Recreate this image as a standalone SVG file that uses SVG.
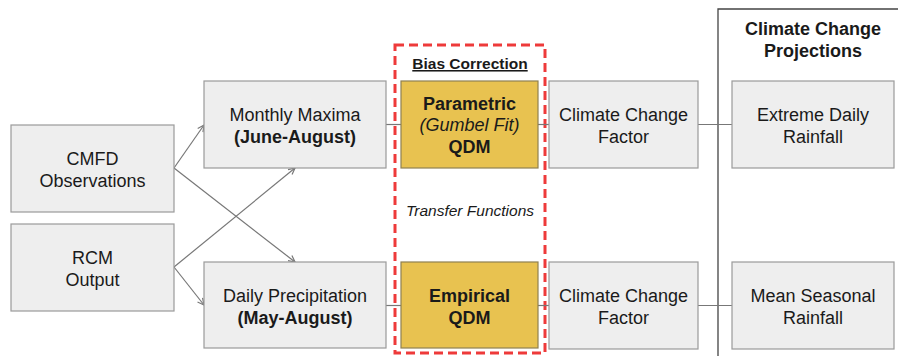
<svg xmlns="http://www.w3.org/2000/svg" width="898" height="356" viewBox="0 0 898 356">
  <defs>
    <style>
      .box { fill: #eeeeee; stroke: #9a9a9a; stroke-width: 1.2; }
      .qdm { fill: #e8c250; stroke: #8f8050; stroke-width: 1.2; }
      .t { font-family: "Liberation Sans", Arial, sans-serif; font-size: 18px; fill: #1a1a1a; text-anchor: middle; }
      .s { font-size: 15.5px; }
      .b { font-weight: bold; }
      .i { font-style: italic; }
      .link { stroke: #777777; stroke-width: 1.2; fill: none; }
      .arrow { stroke: #777777; stroke-width: 1.2; fill: none; marker-end: url(#head); }
    </style>
    <marker id="head" viewBox="0 0 10 10" refX="9" refY="5" markerWidth="8" markerHeight="8" orient="auto" markerUnits="userSpaceOnUse">
      <path d="M1,1 L9,5 L1,9" fill="none" stroke="#777777" stroke-width="1.5"/>
    </marker>
  </defs>

  <!-- Projections frame -->
  <path d="M718,356 L718,9 L898,9" fill="none" stroke="#444444" stroke-width="1.3"/>
  <text class="t b" x="813" y="35">Climate Change</text>
  <text class="t b" x="813" y="57">Projections</text>

  <!-- Bias correction frame -->
  <rect x="395" y="45" width="150" height="308" fill="none" stroke="#ee3a3a" stroke-width="3" stroke-dasharray="9 5"/>
  <text class="t b s" x="470" y="69" text-decoration="underline">Bias Correction</text>
  <text class="t i s" x="470" y="216">Transfer Functions</text>

  <g id="connectors">
    <line class="arrow" x1="174" y1="168" x2="204" y2="125"/>
    <line class="arrow" x1="174" y1="168" x2="295" y2="262"/>
    <line class="arrow" x1="174" y1="267" x2="295" y2="168"/>
    <line class="arrow" x1="174" y1="267" x2="204" y2="305"/>
    <line class="link" x1="386" y1="124.5" x2="401" y2="124.5"/>
    <line class="link" x1="538" y1="124.5" x2="549" y2="124.5"/>
    <line class="link" x1="698" y1="124.5" x2="732" y2="124.5"/>
    <line class="link" x1="386" y1="305.5" x2="401" y2="305.5"/>
    <line class="link" x1="538" y1="305.5" x2="549" y2="305.5"/>
    <line class="link" x1="698" y1="305.5" x2="732" y2="305.5"/>
  </g>

  <g id="cmfd">
    <rect class="box" x="11" y="125" width="163" height="87"/>
    <text class="t" x="92.5" y="165">CMFD</text>
    <text class="t" x="92.5" y="187">Observations</text>
  </g>
  <g id="rcm">
    <rect class="box" x="11" y="224" width="163" height="87"/>
    <text class="t" x="92.5" y="264">RCM</text>
    <text class="t" x="92.5" y="286">Output</text>
  </g>
  <g id="monthly-maxima">
    <rect class="box" x="204" y="81" width="182" height="87"/>
    <text class="t" x="295" y="121">Monthly Maxima</text>
    <text class="t b" x="295" y="143">(June-August)</text>
  </g>
  <g id="daily-precip">
    <rect class="box" x="204" y="262" width="182" height="86"/>
    <text class="t" x="295" y="302">Daily Precipitation</text>
    <text class="t b" x="295" y="324">(May-August)</text>
  </g>
  <g id="parametric">
    <rect class="qdm" x="401" y="81" width="137" height="87"/>
    <text class="t b" x="469.5" y="110">Parametric</text>
    <text class="t i" x="469.5" y="131">(Gumbel Fit)</text>
    <text class="t b" x="469.5" y="153">QDM</text>
  </g>
  <g id="empirical">
    <rect class="qdm" x="401" y="262" width="137" height="86"/>
    <text class="t b" x="469.5" y="302">Empirical</text>
    <text class="t b" x="469.5" y="324">QDM</text>
  </g>
  <g id="ccf-upper">
    <rect class="box" x="549" y="81" width="149" height="87"/>
    <text class="t" x="623.5" y="121">Climate Change</text>
    <text class="t" x="623.5" y="143">Factor</text>
  </g>
  <g id="ccf-lower">
    <rect class="box" x="549" y="262" width="149" height="87"/>
    <text class="t" x="623.5" y="302">Climate Change</text>
    <text class="t" x="623.5" y="324">Factor</text>
  </g>
  <g id="extreme-daily">
    <rect class="box" x="732" y="81" width="162" height="87"/>
    <text class="t" x="813" y="121">Extreme Daily</text>
    <text class="t" x="813" y="143">Rainfall</text>
  </g>
  <g id="mean-seasonal">
    <rect class="box" x="732" y="262" width="162" height="87"/>
    <text class="t" x="813" y="302">Mean Seasonal</text>
    <text class="t" x="813" y="324">Rainfall</text>
  </g>
</svg>
